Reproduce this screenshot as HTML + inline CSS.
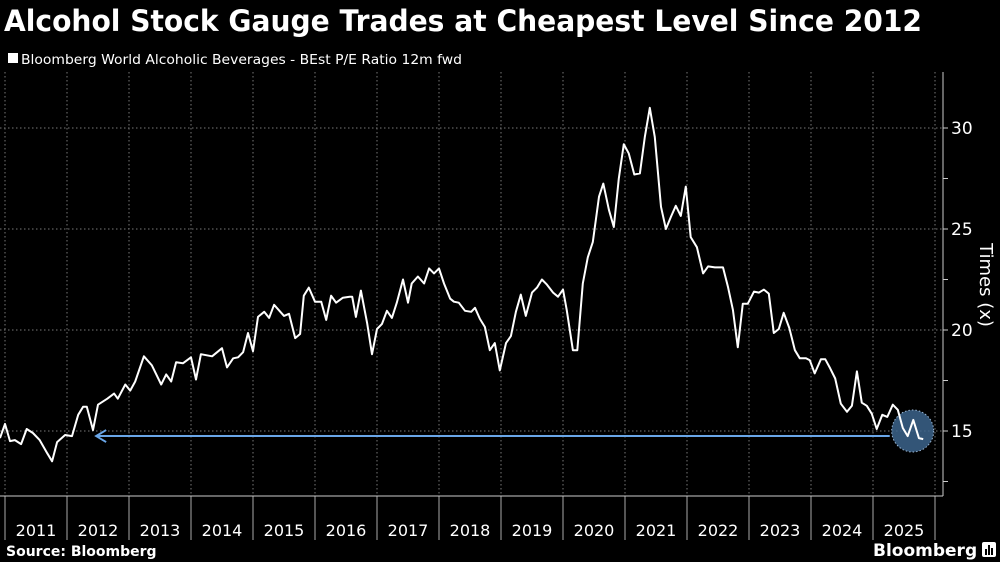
<!DOCTYPE html>
<html><head><meta charset="utf-8"><style>
html,body{margin:0;padding:0;background:#000;}
svg{display:block;}
text{font-family:"DejaVu Sans","Liberation Sans",sans-serif;fill:#fff;}
</style></head><body>
<svg id="chart" width="1000" height="562" viewBox="0 0 1000 562" xmlns="http://www.w3.org/2000/svg">
<rect width="1000" height="562" fill="#000"/>
<text x="4" y="31" font-size="29" font-weight="bold" textLength="918" lengthAdjust="spacingAndGlyphs">Alcohol Stock Gauge Trades at Cheapest Level Since 2012</text>
<rect x="8" y="53" width="10" height="10" fill="#fff"/>
<text x="21" y="64" font-size="13" textLength="441" lengthAdjust="spacingAndGlyphs">Bloomberg World Alcoholic Beverages - BEst P/E Ratio 12m fwd</text>
<g id="grid"></g>
<g id="axes"></g>
<g id="series"></g>
<text x="0" y="0" font-size="18" transform="translate(980,285) rotate(90)" text-anchor="middle">Times (x)</text>
<text x="6" y="556" font-size="14" font-weight="bold">Source: Bloomberg</text>
<text x="873" y="556" font-size="17" font-weight="bold">Bloomberg</text>
<g><rect x="982" y="542" width="14" height="15" rx="2" fill="#fff"/><rect x="985" y="549" width="2" height="6" fill="#000"/><rect x="988" y="545" width="2" height="10" fill="#000"/><rect x="991" y="548" width="2" height="7" fill="#000"/></g>
</svg>
<script>
const dates = [2010.92,2011.00,2011.08,2011.16,2011.26,2011.35,2011.45,2011.56,2011.68,2011.76,2011.84,2011.97,2012.08,2012.18,2012.26,2012.32,2012.42,2012.50,2012.65,2012.76,2012.82,2012.94,2013.02,2013.10,2013.24,2013.37,2013.52,2013.60,2013.68,2013.76,2013.87,2014.00,2014.08,2014.16,2014.34,2014.50,2014.58,2014.68,2014.76,2014.84,2014.92,2015.00,2015.08,2015.18,2015.26,2015.34,2015.50,2015.58,2015.68,2015.76,2015.82,2015.90,2016.00,2016.10,2016.18,2016.26,2016.34,2016.45,2016.56,2016.60,2016.66,2016.74,2016.84,2016.92,2017.00,2017.08,2017.16,2017.24,2017.32,2017.42,2017.50,2017.56,2017.66,2017.76,2017.84,2017.92,2018.00,2018.08,2018.18,2018.24,2018.32,2018.42,2018.52,2018.58,2018.66,2018.74,2018.82,2018.90,2018.98,2019.08,2019.16,2019.24,2019.32,2019.40,2019.50,2019.58,2019.66,2019.74,2019.84,2019.92,2020.00,2020.06,2020.16,2020.23,2020.32,2020.40,2020.48,2020.58,2020.65,2020.74,2020.82,2020.90,2020.98,2021.06,2021.15,2021.24,2021.32,2021.40,2021.48,2021.58,2021.66,2021.74,2021.82,2021.90,2021.98,2022.06,2022.16,2022.26,2022.34,2022.45,2022.58,2022.66,2022.74,2022.82,2022.90,2022.98,2023.08,2023.16,2023.24,2023.32,2023.40,2023.48,2023.56,2023.65,2023.74,2023.82,2023.92,2023.98,2024.06,2024.16,2024.23,2024.31,2024.39,2024.48,2024.58,2024.66,2024.74,2024.82,2024.90,2024.98,2025.06,2025.15,2025.23,2025.32,2025.40,2025.48,2025.56,2025.65,2025.74,2025.81];
const peValues = [14.65,15.35,14.5,14.55,14.35,15.1,14.9,14.55,13.9,13.5,14.45,14.8,14.75,15.8,16.2,16.2,15.05,16.3,16.6,16.85,16.6,17.3,17.0,17.45,18.7,18.25,17.3,17.8,17.45,18.4,18.35,18.65,17.55,18.8,18.7,19.1,18.15,18.6,18.65,18.9,19.85,18.95,20.65,20.9,20.6,21.25,20.7,20.8,19.6,19.8,21.7,22.1,21.4,21.4,20.5,21.7,21.35,21.6,21.65,21.65,20.65,21.95,20.35,18.8,20.05,20.3,20.95,20.6,21.35,22.5,21.35,22.3,22.65,22.3,23.05,22.8,23.05,22.3,21.55,21.4,21.35,20.95,20.9,21.1,20.55,20.15,19.0,19.35,18.0,19.35,19.7,20.9,21.75,20.7,21.85,22.1,22.5,22.25,21.85,21.65,22.0,21.0,19.0,19.0,22.3,23.6,24.35,26.6,27.25,25.95,25.1,27.5,29.2,28.75,27.7,27.75,29.55,31.0,29.55,26.1,25.0,25.6,26.15,25.65,27.1,24.6,24.1,22.8,23.15,23.1,23.1,22.15,21.0,19.15,21.3,21.3,21.9,21.85,22.0,21.8,19.85,20.05,20.85,20.1,19.0,18.6,18.6,18.5,17.85,18.55,18.55,18.1,17.6,16.35,15.95,16.25,17.95,16.4,16.25,15.85,15.1,15.8,15.7,16.3,16.05,15.15,14.75,15.55,14.65,14.6];
const yearLabels = ["2011","2012","2013","2014","2015","2016","2017","2018","2019","2020","2021","2022","2023","2024","2025"];
const yTickValues = [12.5,15,17.5,20,22.5,25,27.5,30];
const yLabelValues = [15,20,25,30];
const arrowStartDate = 2012.47, arrowEndDate = 2025.27, arrowValue = 14.75;
const circleDate = 2025.64, circleValue = 15.0;

const NS = "http://www.w3.org/2000/svg";
const x = d => 5 + (d - 2011) * 62;
const y = v => 431 - (v - 15) * 20.2;
const plotTop = 72, plotBottom = 496, plotRight = 943;
function mk(tag, attrs, parent){ const e = document.createElementNS(NS, tag); for (const k in attrs) e.setAttribute(k, attrs[k]); parent.appendChild(e); return e; }
const grid = document.getElementById('grid'), axes = document.getElementById('axes'), series = document.getElementById('series');

yLabelValues.forEach(v => {
  const l = mk('line', {x1:0, x2:plotRight, y1:y(v), y2:y(v), stroke:'#777', 'stroke-width':1, 'stroke-dasharray':'1.5,2.5'}, grid);
  
  
});
for (let i = 0; i <= yearLabels.length; i++) {
  const yr = 2011 + i;
  const gx = x(yr);
  const l = mk('line', {x1:gx, x2:gx, y1:plotTop, y2:plotBottom, stroke:'#777', 'stroke-width':1, 'stroke-dasharray':'1.5,2.5'}, grid);
  
  
  const t = mk('line', {x1:gx, x2:gx, y1:plotBottom, y2:540, stroke:'#aaa', 'stroke-width':1}, axes);
  
  
}
yearLabels.forEach((lab, i) => {
  const t = mk('text', {x:x(2011 + i + 0.5), y:536, 'font-size':16, 'text-anchor':'middle'}, axes);
  t.textContent = lab;
  
  
});
const base = mk('line', {x1:0, x2:plotRight, y1:plotBottom, y2:plotBottom, stroke:'#ccc', 'stroke-width':1}, axes);


const ra = mk('line', {x1:plotRight, x2:plotRight, y1:plotTop, y2:plotBottom, stroke:'#ccc', 'stroke-width':1}, axes);


yTickValues.forEach(v => {
  const t = mk('line', {x1:plotRight, x2:plotRight + 5, y1:y(v), y2:y(v), stroke:'#ccc', 'stroke-width':1}, axes);
  
  
});
yLabelValues.forEach(v => {
  const t = mk('text', {x:951, y:y(v) + 6, 'font-size':17}, axes);
  t.textContent = v;
  
  
});

const ay = y(arrowValue), ax1 = x(arrowStartDate), ax2 = x(arrowEndDate);
const arrowLine = mk('line', {x1:ax1, x2:ax2, y1:ay, y2:ay, stroke:'#6aa6e8', 'stroke-width':2}, series);


const arrowHead = mk('polyline', {points:`${ax1+10},${ay-6} ${ax1},${ay} ${ax1+10},${ay+6}`, fill:'none', stroke:'#6aa6e8', 'stroke-width':2}, series);



const circ = mk('circle', {cx:x(circleDate), cy:y(circleValue), r:21, fill:'rgba(60,100,140,0.85)', stroke:'#9bb8d6', 'stroke-width':1, 'stroke-dasharray':'1.5,2'}, series);



const pts = dates.map((d, i) => x(d).toFixed(1) + ',' + y(peValues[i]).toFixed(1)).join(' ');
const line = mk('polyline', {points:pts, fill:'none', stroke:'#fff', 'stroke-width':2, 'stroke-linejoin':'round'}, series);


</script>
</body></html>
